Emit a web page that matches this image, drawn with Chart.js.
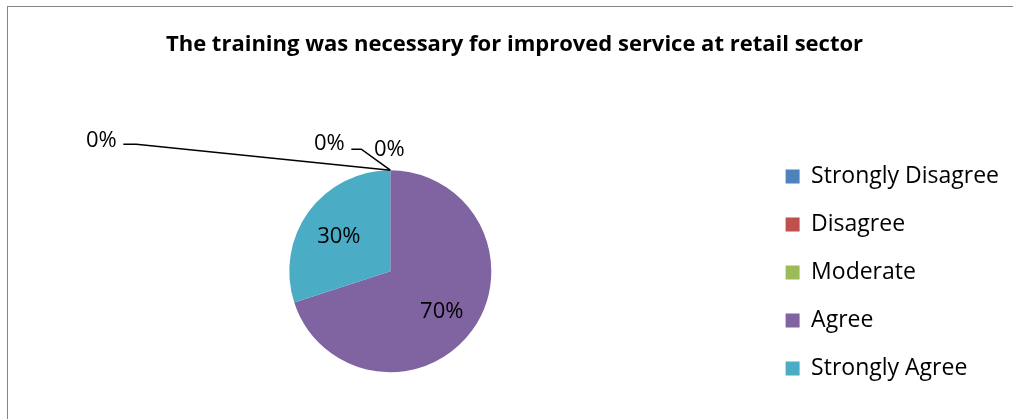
<!DOCTYPE html>
<html>
<head>
<meta charset="utf-8">
<script src="https://cdn.jsdelivr.net/npm/chart.js@4/dist/chart.umd.min.js"></script>
<style>
    html, body { margin: 0; padding: 0; background: #ffffff; overflow: hidden; }
    #frame {
        position: absolute; left: 7px; top: 6px;
        width: 1012px; height: 420px;
        border: 1px solid #868686;
    }
    #chart { display: block; }
</style>
</head>
<body>
<div id="frame"><canvas id="chart" width="1012" height="420"></canvas></div>
<script>
/* Chart data */
const titleText = "The training was necessary for improved service at retail sector";
const categories = ["Strongly Disagree", "Disagree", "Moderate", "Agree", "Strongly Agree"];
const percentages = [0, 0, 0, 70, 30];
const sliceColors = ["#4F81BD", "#C0504D", "#9BBB59", "#8064A2", "#4BACC6"];

/* Where the labels of empty slices go, relative to the point where the slice sits on the rim */
const zeroLabelLayout = [
    {dx: -289, dy: -32, leader: [[-267, -26], [-254, -26]]},
    {dx: -61, dy: -29, leader: [[-39, -21], [-29, -21]]},
    {dx: -1, dy: -23, leader: []}
];

const FONT = "'Open Sans', 'DejaVu Sans', sans-serif";

/**
 * Plugin to write percentage labels on (or beside) the slices
 */
const sliceLabels = {
    id: "sliceLabels",
    afterDatasetsDraw(chart, args, opts) {
        const ctx = chart.ctx;
        const meta = chart.getDatasetMeta(0);
        const data = chart.data.datasets[0].data;
        let total = 0;
        data.forEach(v => total += v);

        ctx.save();
        ctx.font = `${opts.size}px ${FONT}`;
        ctx.fillStyle = "#000000";
        ctx.strokeStyle = "#000000";
        ctx.lineWidth = 1.6;
        ctx.textAlign = "center";
        ctx.textBaseline = "middle";

        let zeroIdx = 0;
        meta.data.forEach((arc, i) => {
            const value = data[i];
            const text = `${Math.round(value / total * 100)}%`;
            if (value > 0) {
                const mid = (arc.startAngle + arc.endAngle) / 2;
                const r = arc.outerRadius * opts.inset;
                ctx.fillText(text, arc.x + Math.cos(mid) * r, arc.y + Math.sin(mid) * r + opts.shiftY);
            } else {
                /* Empty slice: label pushed out with a leader line */
                const ax = arc.x + Math.cos(arc.startAngle) * arc.outerRadius;
                const ay = arc.y + Math.sin(arc.startAngle) * arc.outerRadius;
                const place = zeroLabelLayout[zeroIdx++] || {dx: 0, dy: -20, leader: []};
                if (place.leader.length) {
                    ctx.beginPath();
                    ctx.moveTo(ax + place.leader[0][0], ay + place.leader[0][1]);
                    place.leader.slice(1).forEach(p => ctx.lineTo(ax + p[0], ay + p[1]));
                    ctx.lineTo(ax, ay);
                    ctx.stroke();
                }
                ctx.fillText(text, ax + place.dx, ay + place.dy + opts.shiftY);
            }
        });
        ctx.restore();
    }
};

Chart.defaults.font.family = FONT;
Chart.defaults.color = "#000000";

new Chart(document.getElementById("chart"), {
    type: "pie",
    data: {
        labels: categories,
        datasets: [{
            data: percentages,
            backgroundColor: sliceColors,
            borderWidth: 0,
            radius: 101
        }]
    },
    options: {
        responsive: false,
        animation: false,
        devicePixelRatio: 1,
        layout: {
            padding: {left: 12, right: 11, top: 0, bottom: 22}
        },
        plugins: {
            title: {
                display: true,
                text: titleText,
                color: "#000000",
                font: {size: 22, weight: "bold", family: FONT},
                padding: {top: 25, bottom: 79}
            },
            legend: {
                display: true,
                position: "right",
                align: "end",
                labels: {
                    boxWidth: 14,
                    boxHeight: 14,
                    padding: 25,
                    color: "#000000",
                    font: {size: 23, family: FONT}
                }
            },
            tooltip: {enabled: false},
            sliceLabels: {size: 22, inset: 0.63, shiftY: 3}
        }
    },
    plugins: [sliceLabels]
});
</script>
</body>
</html>
